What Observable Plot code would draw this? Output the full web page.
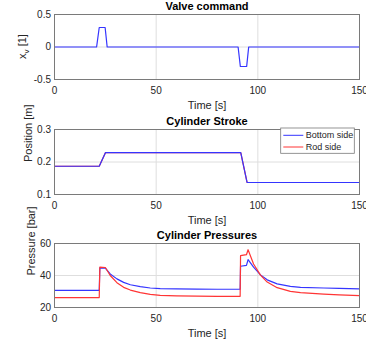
<!DOCTYPE html>
<html><head><meta charset="utf-8">
<script src="https://cdn.jsdelivr.net/npm/d3@7"></script>
<script src="https://cdn.jsdelivr.net/npm/@observablehq/plot@0.6"></script>
<style>
body{margin:0;background:#fff;}
#chart{width:366px;height:348px;position:relative;overflow:hidden;}
#chart svg{display:block;}
</style></head><body><div id="chart"></div>
<script>
// ---- data ----
const xTicks = [0, 50, 100, 150];

const valveTime = [0, 20.7, 22, 24.9, 25.9, 90.3, 91.4, 94.5, 95.5, 150];
const valveCmd  = [0, 0, 0.3, 0.3, 0, 0, -0.3, -0.3, 0, 0];
const valveTicks = [-0.5, 0, 0.5];

const strokeTime   = [0, 22, 25.1, 91.6, 94.7, 150];
const strokeBottom = [0.187, 0.187, 0.229, 0.229, 0.137, 0.137];
const strokeRod    = [0.187, 0.187, 0.229, 0.229, 0.137, 0.137];
const strokeTicks  = [0.1, 0.2, 0.3];
const seriesNames  = ["Bottom side", "Rod side"];
const seriesColors = ["#3535ff", "#ff3535"];

const presTime   = [0, 22, 22.3, 25, 27.4, 30.7, 34, 37.3, 42.2, 47.1, 52, 60, 70, 80, 91.3, 91.5, 94.4, 95.2, 97.9, 101.3, 104.6, 109.5, 116, 121, 132.4, 140, 150];
const presBottom = [30.7, 30.7, 44.8, 44.6, 41.0, 37.9, 35.7, 34.2, 33.0, 32.2, 31.8, 31.6, 31.5, 31.4, 31.4, 45.8, 46.3, 49.9, 45.2, 40.4, 37.3, 34.8, 33.2, 32.6, 32.2, 31.9, 31.6];
const presRod    = [26.2, 26.2, 45.2, 45.0, 40.0, 35.5, 32.6, 30.9, 29.3, 28.2, 27.6, 27.3, 27.1, 27.0, 27.0, 52.4, 53.0, 56.1, 47.2, 40.2, 35.9, 32.4, 30.1, 29.3, 28.4, 27.9, 27.4];
const presTicks  = [20, 40, 60];

// ---- drawing ----
const FONT = "'Liberation Sans', Arial, Helvetica, sans-serif";
const TXT = "#262626";
const ML = 54, MR = 7;

function panel({top, bottom, yDomain, yTicks, yFormat, title, ylabel, ylabelX, series}) {
  const marks = [
    Plot.gridX(xTicks.slice(1, -1), {stroke: "#dedede", strokeOpacity: 1}),
    Plot.gridY(yTicks.slice(1, -1), {stroke: "#dedede", strokeOpacity: 1}),
  ];
  for (const s of series) {
    const data = s.t.map((t, i) => ({t, v: s.v[i]}));
    marks.push(Plot.line(data, {x: "t", y: "v", stroke: s.color, strokeWidth: 1.2}));
  }
  marks.push(
    Plot.frame({stroke: "#7a7a7a", strokeWidth: 1}),
    Plot.axisX(xTicks, {tickSize: 0, tickPadding: 7, fontSize: 10, fill: TXT, label: null}),
    Plot.axisY(yTicks, {tickSize: 0, tickPadding: 3.5, fontSize: 10, fill: TXT, label: null, tickFormat: yFormat}),
    Plot.text([title], {frameAnchor: "top", lineAnchor: "bottom", dy: -5, fontWeight: "bold", fontSize: 11, fill: "#000"}),
    Plot.text(["Time [s]"], {frameAnchor: "bottom", lineAnchor: "middle", dy: 25.7, fontSize: 11, fill: TXT})
  );
  if (ylabel) marks.push(Plot.text([ylabel], {frameAnchor: "left", rotate: -90, lineAnchor: "middle", dx: ylabelX - ML, fontSize: 11, fill: TXT}));
  return Plot.plot({
    width: 366, height: 116,
    marginLeft: ML, marginRight: MR, marginTop: top, marginBottom: bottom,
    x: {domain: [0, 150]},
    y: {domain: yDomain},
    style: {fontFamily: FONT, fontSize: "10px", color: TXT, background: "white", overflow: "visible"},
    marks
  });
}

const chart = document.getElementById("chart");

const p1 = panel({top: 14, bottom: 37, yDomain: [-0.5, 0.5], yTicks: valveTicks,
  yFormat: d => d === 0 ? "0" : String(d), title: "Valve command", ylabel: null,
  series: [{t: valveTime, v: valveCmd, color: seriesColors[0]}]});
chart.appendChild(p1);
{
  const t = d3.select(p1).append("text")
    .attr("transform", `translate(22,${(14 + 79) / 2}) rotate(-90)`)
    .attr("text-anchor", "middle").attr("dy", "0.35em")
    .attr("font-family", FONT).attr("font-size", 11).attr("fill", TXT);
  t.append("tspan").text("x");
  t.append("tspan").attr("dy", 3).attr("font-size", 8).text("v");
  t.append("tspan").attr("dy", -3).text(" [1]");
}

const p2 = panel({top: 13, bottom: 38, yDomain: [0.1, 0.3], yTicks: strokeTicks,
  yFormat: d => d.toFixed(1), title: "Cylinder Stroke", ylabel: "Position [m]", ylabelX: 28,
  series: [{t: strokeTime, v: strokeRod, color: seriesColors[1]}, {t: strokeTime, v: strokeBottom, color: seriesColors[0]}]});
chart.appendChild(p2);
{
  const g = d3.select(p2).append("g").attr("font-family", FONT).attr("font-size", 9).attr("fill", TXT)
    .attr("text-anchor", "start");
  g.append("rect").attr("x", 280.7).attr("y", 12).attr("width", 73.6).attr("height", 25.3)
    .attr("fill", "white").attr("stroke", "#7a7a7a").attr("stroke-width", 0.8);
  seriesNames.forEach((name, i) => {
    const y = 19.3 + i * 11.7;
    g.append("line").attr("x1", 283.3).attr("x2", 303.3).attr("y1", y).attr("y2", y)
      .attr("stroke", seriesColors[i]).attr("stroke-width", 1);
    g.append("text").attr("x", 305.7).attr("y", y).attr("dy", "0.35em")
      .attr("text-anchor", "start").text(name);
  });
}

const p3 = panel({top: 11, bottom: 41, yDomain: [20, 60], yTicks: presTicks,
  yFormat: d => String(d), title: "Cylinder Pressures", ylabel: "Pressure [bar]", ylabelX: 31,
  series: [{t: presTime, v: presBottom, color: seriesColors[0]}, {t: presTime, v: presRod, color: seriesColors[1]}]});
chart.appendChild(p3);
</script>
</body></html>
